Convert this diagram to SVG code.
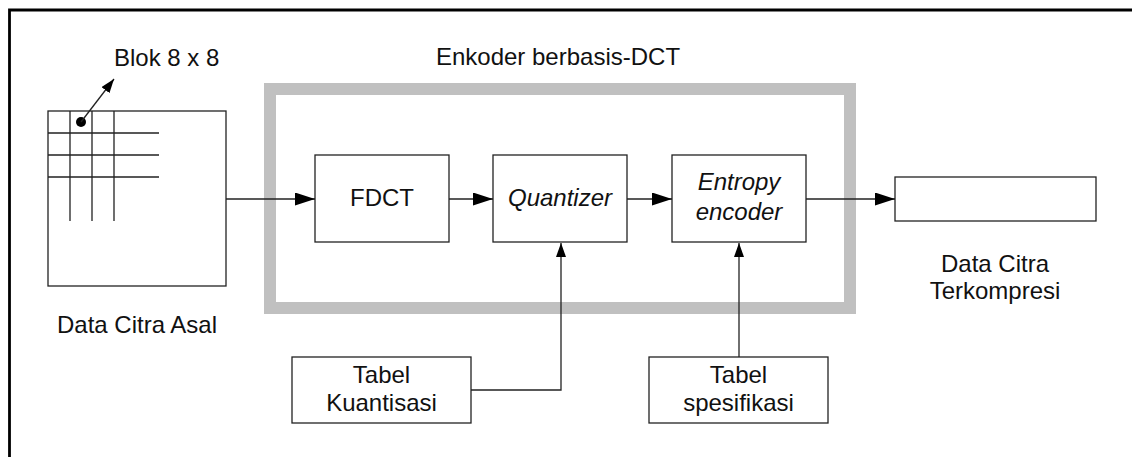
<svg xmlns="http://www.w3.org/2000/svg" width="1132" height="457" viewBox="0 0 1132 457">
  <style>
    .t { font-family: "Liberation Sans", Arial, sans-serif; font-size: 24px; fill: #111; }
    .c { text-anchor: middle; }
    .i { font-style: italic; }
    .box { fill: #fff; stroke: #222; stroke-width: 1.3; }
    .ln { fill: none; stroke: #222; stroke-width: 1.3; }
  </style>
  <defs>
    <marker id="ah" markerUnits="userSpaceOnUse" markerWidth="20" markerHeight="13" refX="20" refY="6.5" orient="auto">
      <path d="M0,0 L20,6.5 L0,13 z" fill="#000"/>
    </marker>
    <marker id="as" markerUnits="userSpaceOnUse" markerWidth="14" markerHeight="10" refX="14" refY="5" orient="auto">
      <path d="M0,0 L14,5 L0,10 z" fill="#000"/>
    </marker>
  </defs>
  <rect width="1132" height="457" fill="#fff"/>
  <path d="M9.5,457 V10 H1132" fill="none" stroke="#000" stroke-width="2.8"/>

  <g id="source">
    <rect class="box" x="48" y="111" width="178" height="175"/>
    <path class="ln" d="M70,111 V221 M92,111 V221 M114,111 V221 M48,133 H159 M48,155 H159 M48,177 H159"/>
    <circle cx="81" cy="122" r="5" fill="#000"/>
    <text class="t c" x="137" y="333">Data Citra Asal</text>
  </g>
  <g id="blok-label">
    <text class="t" x="114" y="66">Blok 8 x 8</text>
  </g>

  <g id="encoder">
    <rect x="270" y="89" width="580" height="219" fill="none" stroke="#c0c0c0" stroke-width="12"/>
    <text class="t c" x="558" y="65">Enkoder berbasis-DCT</text>
  </g>

  <g id="fdct">
    <rect class="box" x="315" y="155" width="134" height="87"/>
    <text class="t c" x="382" y="206">FDCT</text>
  </g>
  <g id="quantizer">
    <rect class="box" x="493" y="155" width="134" height="87"/>
    <text class="t c i" x="560" y="206">Quantizer</text>
  </g>
  <g id="entropy">
    <rect class="box" x="672" y="155" width="134" height="87"/>
    <text class="t c i" x="739" y="190">Entropy</text>
    <text class="t c i" x="739" y="220">encoder</text>
  </g>
  <g id="output">
    <rect class="box" x="895" y="177" width="201" height="44"/>
    <text class="t c" x="995" y="272">Data Citra</text>
    <text class="t c" x="995" y="299">Terkompresi</text>
  </g>
  <g id="tabel-kuantisasi">
    <rect class="box" x="292" y="357" width="179" height="66"/>
    <text class="t c" x="381.5" y="383">Tabel</text>
    <text class="t c" x="381.5" y="411">Kuantisasi</text>
  </g>
  <g id="tabel-spesifikasi">
    <rect class="box" x="649" y="357" width="179" height="66"/>
    <text class="t c" x="738.5" y="383">Tabel</text>
    <text class="t c" x="738.5" y="411">spesifikasi</text>
  </g>

  <g id="connectors">
    <path class="ln" d="M81,122 L114,79" marker-end="url(#as)"/>
    <path class="ln" d="M226,199 H315" marker-end="url(#ah)"/>
    <path class="ln" d="M449,199 H493" marker-end="url(#ah)"/>
    <path class="ln" d="M627,199 H672" marker-end="url(#ah)"/>
    <path class="ln" d="M806,199 H895" marker-end="url(#ah)"/>
    <path class="ln" d="M471,390 H561 V243" marker-end="url(#as)"/>
    <path class="ln" d="M739,357 V243" marker-end="url(#as)"/>
  </g>
</svg>
